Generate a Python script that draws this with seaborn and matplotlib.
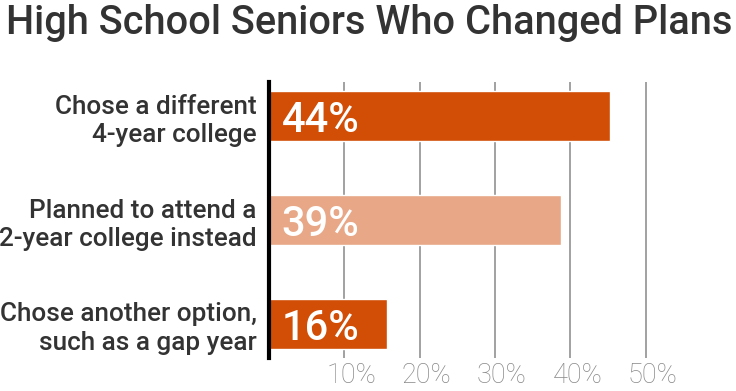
import matplotlib
matplotlib.use("Agg")
import matplotlib.pyplot as plt
import matplotlib.transforms as mtransforms
import seaborn as sns
import pandas as pd

categories = ["Chose a different\n4-year college",
              "Planned to attend a\n2-year college instead",
              "Chose another option,\nsuch as a gap year"]
values = [45.3, 38.8, 15.6]
value_labels = ["44%", "39%", "16%"]
colors = ["#D24D05", "#E8A786", "#D24D05"]
tick_values = [10, 20, 30, 40, 50]
tick_labels = ["10%", "20%", "30%", "40%", "50%"]
title = "High School Seniors Who Changed Plans"

df = pd.DataFrame({"category": categories, "value": values})

sns.set_theme(style="white")
plt.rcParams["font.family"] = ["Roboto", "DejaVu Sans"]

fig = plt.figure(figsize=(7.36, 3.91), dpi=100)
ax = fig.add_axes([269 / 736, 1 - 358 / 391, (721 - 269) / 736, (358 - 81.7) / 391])

sns.barplot(data=df, x="value", y="category", hue="category", palette=colors,
            orient="h", width=0.487, legend=False, ax=ax, saturation=1, zorder=3)

ax.set_xlim(0, 60)
ax.set_ylim(2.327, -0.33)
ax.set_xlabel("")
ax.set_ylabel("")

for t in tick_values:
    ax.axvline(t, color="#9a9a9a", lw=1.3, zorder=1)

for s in ["top", "right", "bottom"]:
    ax.spines[s].set_visible(False)
ax.spines["left"].set_color("black")
ax.spines["left"].set_linewidth(3)
ax.spines["left"].set_zorder(5)

ax.set_xticks(tick_values)
ax.set_xticklabels(tick_labels, color="#888888", fontsize=19.5, fontweight="light")
ax.tick_params(axis="x", length=0, pad=3)
offset = mtransforms.ScaledTranslation(7 / 100, 0, fig.dpi_scale_trans)
for lab in ax.get_xticklabels():
    lab.set_transform(lab.get_transform() + offset)

ax.set_yticks(range(len(categories)))
ax.set_yticklabels(categories, color="#333333", fontsize=18.8, fontweight="medium",
                   linespacing=1.25)
ax.tick_params(axis="y", length=0, pad=9)

for i, lab in enumerate(value_labels):
    ax.text(1.7, i, lab, color="white", fontsize=30, fontweight="medium",
            va="center_baseline", ha="left", zorder=6)

t = fig.text(6 / 736, 1 - 34 / 391, title, ha="left", va="baseline", fontsize=27.4,
             color="#333333", fontweight="medium")
fig.canvas.draw()
w = t.get_window_extent().width
t.set_fontsize(27.4 * 727 / w)

fig.savefig("out.png", dpi=100)
